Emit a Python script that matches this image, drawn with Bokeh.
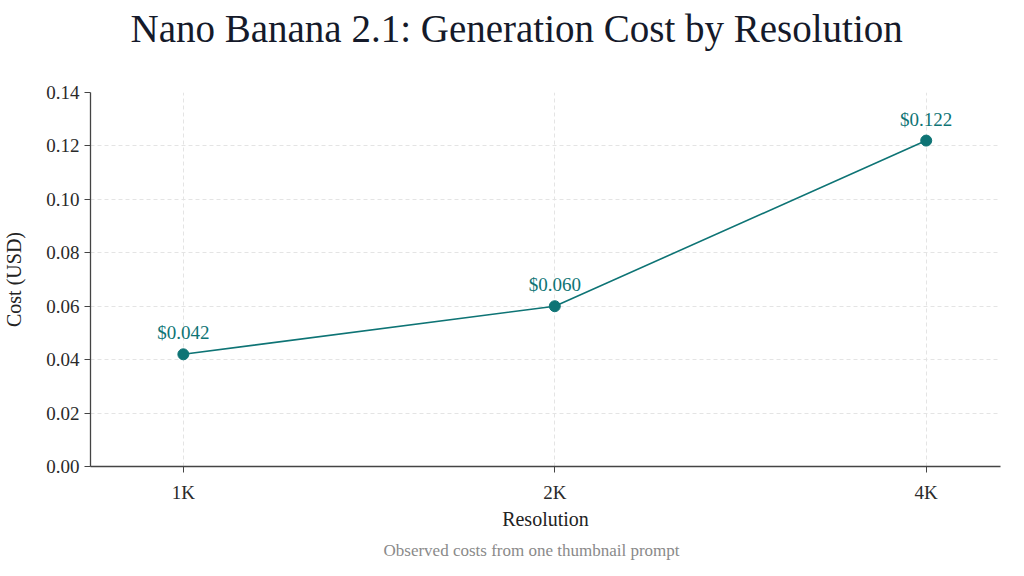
from bokeh.plotting import figure
from bokeh.models import ColumnDataSource, FixedTicker, Title, NumeralTickFormatter, Range1d
from bokeh.core.properties import value
from bokeh.embed import file_html
from bokeh.resources import INLINE

resolutions = ["1K", "2K", "4K"]
costs = [0.042, 0.060, 0.122]
cost_labels = ["$0.042", "$0.060", "$0.122"]
y_ticks = [0.00, 0.02, 0.04, 0.06, 0.08, 0.10, 0.12, 0.14]

FONT = "Liberation Serif"
TEAL = "#0e7475"

xs = list(range(len(resolutions)))
src = ColumnDataSource(dict(x=xs, y=costs, label=cost_labels))

p = figure(width=1024, height=576, output_backend="svg", toolbar_location=None,
           x_range=Range1d(-0.25, 2.2), y_range=Range1d(0, 0.14),
           min_border_left=90, min_border_right=24, min_border_top=92, min_border_bottom=110)

p.title.text = "Nano Banana 2.1: Generation Cost by Resolution"
p.title.align = "left"
p.title.offset = 40
p.title.text_font = FONT
p.title.text_font_size = "39px"
p.title.text_font_style = "normal"
p.title.text_color = "#151a2a"
p.title.standoff = 0

spacer = Title(text=" ", text_font_size="10px", standoff=30)
p.add_layout(spacer, "above")

p.line("x", "y", source=src, line_color=TEAL, line_width=1.6)
p.scatter("x", "y", source=src, size=11, fill_color=TEAL, line_color=TEAL)
p.text("x", "y", text="label", source=src, text_font=value(FONT), text_font_size="19px",
       text_color=TEAL, text_align="center", text_baseline="bottom", y_offset=-11)

p.xaxis.ticker = FixedTicker(ticks=xs)
p.xaxis.major_label_overrides = {i: r for i, r in zip(xs, resolutions)}
p.xaxis.minor_tick_line_color = None
p.yaxis.ticker = FixedTicker(ticks=y_ticks)
p.yaxis.formatter = NumeralTickFormatter(format="0.00")
p.yaxis.minor_tick_line_color = None

for ax in (p.xaxis, p.yaxis):
    ax.axis_line_color = "#444444"
    ax.axis_line_width = 1.3
    ax.major_tick_line_color = "#444444"
    ax.major_tick_out = 6
    ax.major_tick_in = 0
    ax.major_label_text_font = FONT
    ax.major_label_text_font_size = "19px"
    ax.major_label_text_color = "#2a2a2a"
    ax.axis_label_text_font = FONT
    ax.axis_label_text_font_size = "20px"
    ax.axis_label_text_font_style = "normal"
    ax.axis_label_text_color = "#222222"

p.xaxis.axis_label = "Resolution"
p.yaxis.axis_label = "Cost (USD)"
p.xaxis.axis_label_standoff = 2
p.yaxis.axis_label_standoff = 18
p.xaxis.major_label_standoff = 9

p.grid.grid_line_color = "#e4e4e4"
p.grid.grid_line_dash = "4 3"
p.grid.grid_line_width = 1
p.outline_line_color = None

cap = Title(text="Observed costs from one thumbnail prompt", align="left",
            text_font=FONT, text_font_size="17px", text_font_style="normal",
            text_color="#8a8a8a", standoff=12, offset=293)
p.add_layout(cap, "below")

open("out.html", "w").write(file_html(p, INLINE))
